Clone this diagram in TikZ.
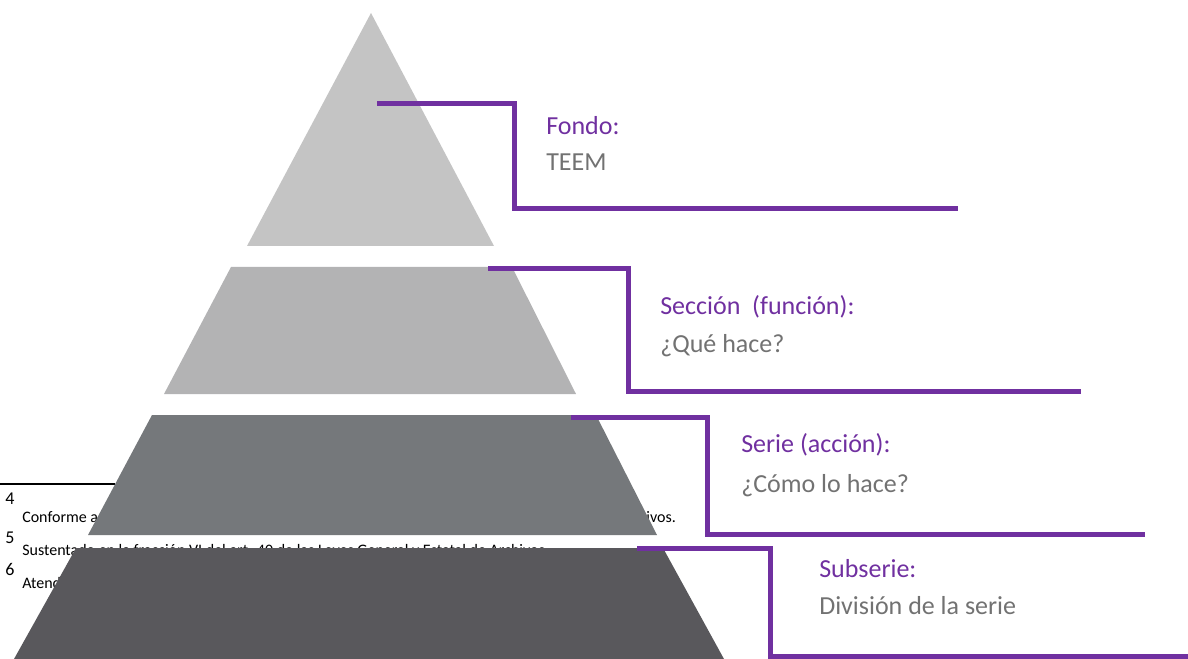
\documentclass[tikz,border=0pt]{standalone}
\usepackage{fontspec}
\setmainfont{Carlito}
\usetikzlibrary{positioning}

\definecolor{morado}{HTML}{7030A0}
\definecolor{textogris}{HTML}{727272}
\definecolor{nivelA}{HTML}{C4C4C4}
\definecolor{nivelB}{HTML}{B3B3B4}
\definecolor{nivelC}{HTML}{75787B}
\definecolor{nivelD}{HTML}{59585C}

\begin{document}
\begin{tikzpicture}[x=0.75pt,y=-0.75pt,
  conector/.style={draw=morado,line width=3.75pt,line join=miter},
  titulo/.style={anchor=base west,inner sep=0pt,text=morado,font=\fontsize{19.5}{22}\selectfont},
  detalle/.style={anchor=base west,inner sep=0pt,text=textogris,font=\fontsize{19.5}{22}\selectfont},
  nota/.style={anchor=base west,inner sep=0pt,font=\fontsize{12}{14}\selectfont},
  numnota/.style={anchor=base west,inner sep=0pt,font=\fontsize{13.5}{15}\selectfont}]

\useasboundingbox (0,0) rectangle (1188,659);

% notas al pie que quedan detras
\draw[line width=1.5pt] (0,484)--(115,484);
\node[numnota] (n4) at (5,504) {4};
\node[nota] (t4) at (22,522) {Conforme a lo establecido en el artículo 4, fracción XVII de la Ley General y la Ley Estatal de Archivos.};
\node[numnota] (n5) at (5,543) {5};
\node[nota] (t5) at (22,555) {Sustentado en la fracción VI del art. 40 de las Leyes General y Estatal de Archivos.};
\node[numnota] (n6) at (5,575) {6};
\node[nota] (t6) at (22,588) {Atendiendo a lo dispuesto por la Ley General de Archivos.};

% niveles de la piramide
\fill[nivelA] (371,13) -- (494,246) -- (247,246) -- cycle;
\fill[nivelB] (231,267) -- (512,267) -- (576,394) -- (164,394) -- cycle;
\fill[nivelC] (152,415) -- (596,415) -- (657,535) -- (88,535) -- cycle;
\fill[nivelD] (76,548) -- (663,548) -- (724,659) -- (14,659) -- cycle;

% conectores
\coordinate (s1) at (377,104);  \coordinate (k1) at (514,209);  \coordinate (e1) at (958,209);
\coordinate (s2) at (488,269);  \coordinate (k2) at (628,391);  \coordinate (e2) at (1081,391);
\coordinate (s3) at (571,417);  \coordinate (k3) at (707,534);  \coordinate (e3) at (1145,534);
\coordinate (s4) at (637,548);  \coordinate (k4) at (770,656);  \coordinate (e4) at (1188,656);
\foreach \i in {1,2,3,4}
\draw[conector] (s\i) -| (k\i) -- (e\i);

% etiquetas
\node[titulo] (fondo) at (546,135) {Fondo:};
\node[detalle] (teem) at (546,171) {TEEM};
\node[titulo] (seccion) at (660,315) {Sección\ \ (función):};
\node[detalle] (quehace) at (660,352) {¿Qué hace?};
\node[titulo] (serie) at (741,452) {Serie (acción):};
\node[detalle] (comohace) at (741,492) {¿Cómo lo hace?};
\node[titulo] (subserie) at (819,577) {Subserie:};
\node[detalle] (division) at (819,614) {División de la serie};
\end{tikzpicture}
\end{document}
